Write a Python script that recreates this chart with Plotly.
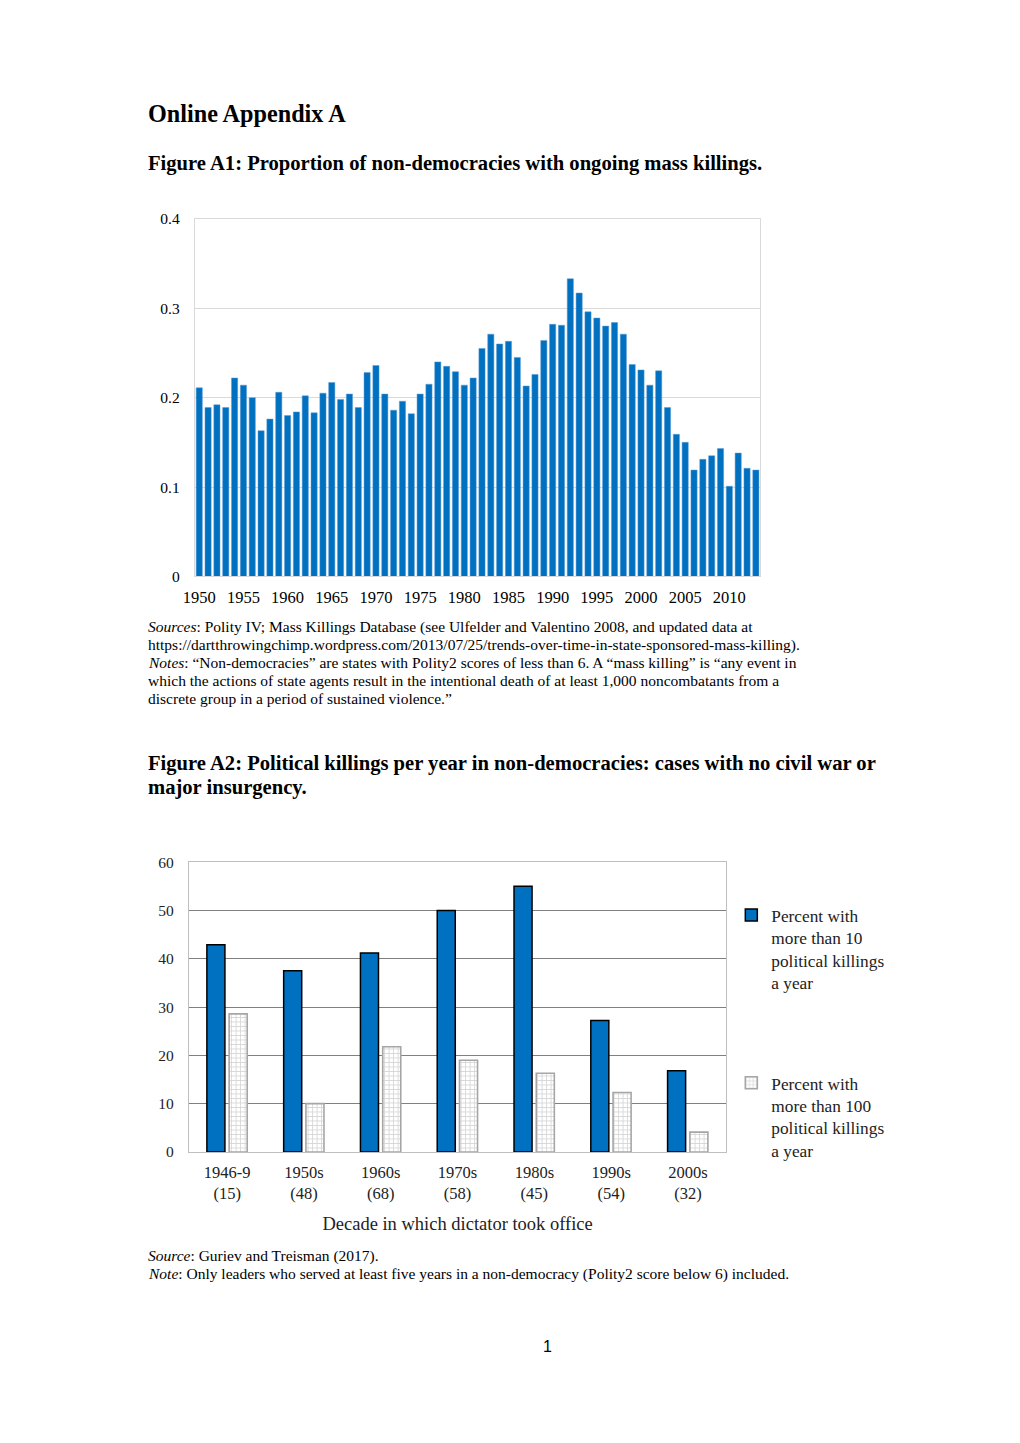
import plotly.graph_objects as go

FW, FH = 1004, 1427   # figure size
SX, OX, OY = 0.989, 19.0, 15.0   # observed page-to-figure placement
SERIF = "Liberation Serif, Times New Roman, serif"

# ---- Figure A1 data ----
years = list(range(1950, 2014))
share_mass_killing = [
    0.211, 0.189, 0.192, 0.189, 0.222, 0.214, 0.200, 0.163, 0.176, 0.206,
    0.180, 0.184, 0.202, 0.183, 0.205, 0.217, 0.198, 0.204, 0.189, 0.228,
    0.236, 0.204, 0.186, 0.196, 0.182, 0.204, 0.215, 0.240, 0.235, 0.229,
    0.214, 0.222, 0.255, 0.271, 0.260, 0.263, 0.245, 0.213, 0.226, 0.264,
    0.282, 0.281, 0.333, 0.317, 0.296, 0.289, 0.280, 0.284, 0.271, 0.237,
    0.231, 0.214, 0.230, 0.189, 0.159, 0.150, 0.119, 0.131, 0.135, 0.143,
    0.101, 0.138, 0.121, 0.119,
]
a1_ytick = [0, 0.1, 0.2, 0.3, 0.4]
a1_xtick = list(range(1950, 2011, 5))

# ---- Figure A2 data ----
decades = ["1946-9<br>(15)", "1950s<br>(48)", "1960s<br>(68)", "1970s<br>(58)",
           "1980s<br>(45)", "1990s<br>(54)", "2000s<br>(32)"]
pct_over_10 = [42.9, 37.5, 41.2, 50.0, 55.0, 27.2, 16.8]
pct_over_100 = [28.6, 10.0, 21.8, 19.0, 16.3, 12.3, 4.1]
name_10 = "Percent with<br>more than 10<br>political killings<br>a year"
name_100 = "Percent with<br>more than 100<br>political killings<br>a year"


def px_x(x):
    return ((x - OX) / SX) / FW


def px_y(y):
    return 1 - ((y - OY) / SX) / FH


fig = go.Figure()

fig.add_trace(go.Bar(
    x=years, y=share_mass_killing, xaxis="x", yaxis="y",
    marker=dict(color="#0070C0", line=dict(color="#5b9bd5", width=0.5)),
    showlegend=False,
))

fig.add_trace(go.Bar(
    x=decades, y=pct_over_10, xaxis="x2", yaxis="y2", name=name_10,
    width=0.235, offset=-0.265,
    marker=dict(color="#0070C0", line=dict(color="#000000", width=1.5)),
    legend="legend",
))
fig.add_trace(go.Bar(
    x=decades, y=pct_over_100, xaxis="x2", yaxis="y2", name=name_100,
    width=0.235, offset=0.025,
    marker=dict(color="#ffffff", line=dict(color="#a6a6a6", width=1.6),
                pattern=dict(shape="+", fgcolor="#b0b0b0", bgcolor="#ffffff",
                             size=4.5, solidity=0.35)),
    legend="legend2",
))

fig.update_layout(
    width=FW, height=FH,
    margin=dict(l=0, r=0, t=0, b=0),
    paper_bgcolor="white", plot_bgcolor="white",
    font=dict(family=SERIF, color="#000000"),
    bargap=0.3,
    xaxis=dict(
        domain=[px_x(194), px_x(760)], anchor="y",
        range=[1949.5, 2013.5], tickvals=a1_xtick,
        showgrid=False, showline=True, linecolor="#d9d9d9", mirror=True,
        ticks="", ticklabelstandoff=6, tickfont=dict(size=16.5, family=SERIF),
        zeroline=False,
    ),
    yaxis=dict(
        domain=[px_y(575), px_y(217)], anchor="x",
        range=[0, 0.4], tickvals=a1_ytick,
        showgrid=True, gridcolor="#d9d9d9", gridwidth=1,
        showline=True, linecolor="#d9d9d9", mirror=True,
        ticks="", ticklabelstandoff=11, tickfont=dict(size=15.5, family=SERIF),
        zeroline=False,
    ),
    xaxis2=dict(
        domain=[px_x(188), px_x(726)], anchor="y2",
        range=[-0.5, 6.5],
        showgrid=False, showline=True, linecolor="#bfbfbf", mirror=True,
        ticks="", ticklabelstandoff=5, tickfont=dict(size=16.5, family=SERIF, color="#222222"),
        title=dict(text="Decade in which dictator took office",
                   font=dict(size=18.5, family=SERIF, color="#222222"), standoff=14),
    ),
    yaxis2=dict(
        domain=[px_y(1151), px_y(861)], anchor="x2",
        range=[0, 60], dtick=10,
        showgrid=True, gridcolor="#808080", gridwidth=1.2,
        showline=True, linecolor="#bfbfbf", mirror=True,
        ticks="", ticklabelstandoff=11, tickfont=dict(size=15.5, family=SERIF, color="#222222"),
        zeroline=False,
    ),
    legend=dict(
        x=px_x(731), y=px_y(896), xanchor="left", yanchor="top",
        font=dict(size=17.3, family=SERIF, color="#222222"),
        bgcolor="rgba(0,0,0,0)", valign="top", itemwidth=30,
    ),
    legend2=dict(
        x=px_x(731), y=px_y(1064), xanchor="left", yanchor="top",
        font=dict(size=17.3, family=SERIF, color="#222222"),
        bgcolor="rgba(0,0,0,0)", valign="top", itemwidth=30,
    ),
)

BODY = 15.5
texts = [
    (112, "<b>Online Appendix A</b>", 24.2),
    (162, "<b>Figure A1: Proportion of non-democracies with ongoing mass killings.</b>", 20.6),
    (626, "<i>Sources</i>: Polity IV; Mass Killings Database (see Ulfelder and Valentino 2008, and updated data at", BODY),
    (644, "https://dartthrowingchimp.wordpress.com/2013/07/25/trends-over-time-in-state-sponsored-mass-killing).", BODY),
    (661, "<i>Notes</i>: \u201cNon-democracies\u201d are states with Polity2 scores of less than 6. A \u201cmass killing\u201d is \u201cany event in", BODY),
    (679, "which the actions of state agents result in the intentional death of at least 1,000 noncombatants from a", BODY),
    (697, "discrete group in a period of sustained violence.\u201d", BODY),
    (762, "<b>Figure A2: Political killings per year in non-democracies: cases with no civil war or</b>", 20.6),
    (786, "<b>major insurgency.</b>", 20.6),
    (1255, "<i>Source</i>: Guriev and Treisman (2017).", BODY),
    (1273, "<i>Note</i>: Only leaders who served at least five years in a non-democracy (Polity2 score below 6) included.", BODY),
]
for y, t, s in texts:
    fig.add_annotation(
        x=px_x(145), y=px_y(y), xref="paper", yref="paper",
        xanchor="left", yanchor="middle", text=t, showarrow=False,
        font=dict(size=s, family=SERIF, color="#000000"),
    )

fig.add_annotation(
    x=px_x(547), y=px_y(1346), xref="paper", yref="paper",
    xanchor="center", yanchor="middle", text="1", showarrow=False,
    font=dict(size=16, family="Liberation Sans, Arial, sans-serif", color="#000000"),
)

fig.write_html("out.html")
